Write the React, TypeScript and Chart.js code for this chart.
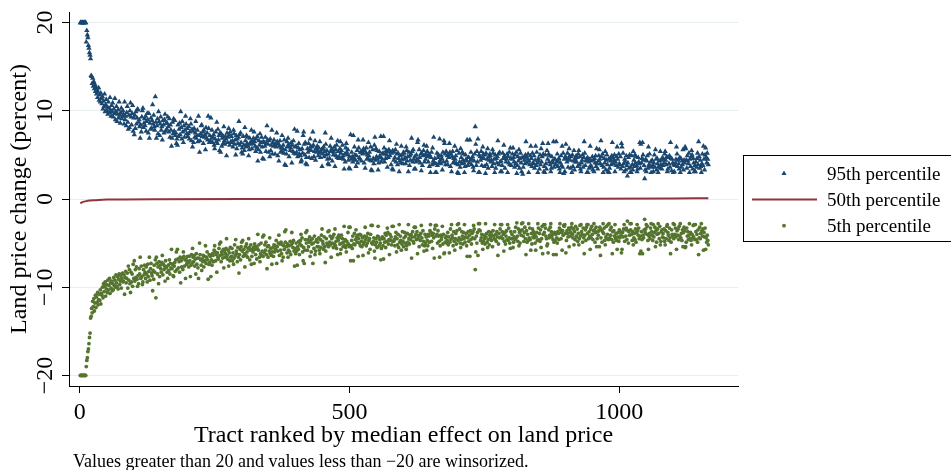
import React, { useEffect, useRef } from 'react';
import { Chart, registerables } from 'chart.js';

Chart.register(...registerables);

// ---- Data ----
const X_TICKS = [0, 500, 1000];
const Y_TICKS = [-20, -10, 0, 10, 20];
const Y_TICK_LABELS = ['\u221220', '\u221210', '0', '10', '20'];
const X_TITLE = 'Tract ranked by median effect on land price';
const Y_TITLE = 'Land price change (percent)';
const NOTE = 'Values greater than 20 and values less than \u221220 are winsorized.';
const SERIES_NAMES = ['95th percentile', '50th percentile', '5th percentile'];

// Tract ranks run 1, 2, 3, ... (one value per tract)
const FIRST_RANK = 1;
const RANK_STEP = 1;

// 95th percentile (percent), one value per tract rank
const P95 = [
  20, 20, 20, 20, 20, 20, 20, 20, 20, 20, 20, 17.8, 19.1, 18.6, 18.3, 17.4, 17.1, 16.6, 16.3, 15.9,
  14.0, 13.9, 13.1, 13.7, 12.8, 13.3, 12.5, 13.0, 12.2, 12.7, 11.9, 12.4, 11.5, 12.1, 12.6, 11.2, 11.8, 11.0, 12.0, 11.4,
  10.8, 11.6, 10.2, 11.1, 10.5, 11.9, 9.9, 10.7, 11.3, 10.0, 10.4, 9.6, 11.0, 10.3, 9.8, 11.5, 10.1, 9.4, 10.6, 9.9,
  10.9, 9.3, 10.2, 9.7, 11.4, 9.0, 9.9, 10.5, 8.8, 9.6, 10.1, 9.2, 11.0, 9.5, 8.6, 9.8, 10.3, 9.1, 9.4, 10.0,
  9.6, 8.5, 11.0, 9.0, 9.4, 8.3, 9.8, 10.5, 8.7, 7.9, 9.5, 8.1, 10.0, 10.9, 9.3, 8.4, 9.7, 10.6, 7.7, 9.2,
  7.3, 9.5, 8.0, 9.9, 8.5, 9.2, 10.2, 10.1, 8.7, 9.0, 8.2, 6.9, 8.4, 7.6, 9.3, 10.0, 10.3, 8.1, 8.6, 9.1,
  8.3, 9.4, 7.7, 8.8, 9.7, 9.0, 7.5, 9.7, 6.9, 8.6, 7.9, 9.2, 8.0, 8.9, 10.7, 8.5, 9.5, 8.2, 7.8, 11.6,
  8.7, 6.9, 8.3, 9.1, 7.4, 9.9, 8.8, 7.2, 8.5, 9.3, 7.8, 8.2, 6.7, 8.9, 8.4, 7.5, 9.0, 9.6, 7.7, 8.6,
  7.9, 8.6, 9.3, 8.2, 7.6, 9.1, 7.0, 8.4, 7.8, 6.0, 6.9, 8.7, 7.4, 9.1, 7.7, 8.9, 7.2, 7.5, 6.3, 6.8,
  6.1, 8.4, 7.1, 7.9, 8.6, 7.3, 9.9, 8.1, 6.8, 8.8, 7.6, 6.4, 8.3, 7.0, 7.8, 9.4, 8.5, 7.4, 8.0, 7.1,
  7.4, 8.2, 6.8, 7.6, 9.1, 8.5, 6.6, 7.9, 5.9, 7.7, 6.4, 8.0, 7.0, 7.5, 8.8, 6.9, 7.2, 7.8, 6.5, 9.4,
  7.2, 5.3, 6.6, 7.4, 8.3, 8.4, 7.1, 7.6, 6.3, 7.8, 7.0, 7.3, 5.6, 8.1, 6.9, 7.5, 6.7, 9.4, 8.0, 6.4,
  7.2, 6.6, 9.2, 6.9, 7.8, 6.4, 7.0, 7.3, 6.1, 5.7, 6.8, 7.6, 6.5, 8.7, 6.3, 7.9, 6.7, 7.2, 5.5, 7.5,
  5.3, 7.4, 6.0, 6.9, 7.2, 6.3, 8.2, 6.6, 6.2, 7.1, 6.8, 4.9, 7.5, 6.4, 7.0, 8.0, 7.3, 6.1, 7.6, 6.5,
  7.1, 6.4, 6.6, 5.9, 7.8, 7.4, 6.2, 6.7, 5.0, 7.2, 5.7, 6.8, 6.3, 7.0, 8.8, 7.3, 6.1, 7.5, 6.4, 5.3,
  5.8, 5.1, 7.1, 6.1, 5.5, 8.1, 6.6, 5.9, 7.2, 6.3, 7.0, 6.0, 4.9, 5.6, 6.9, 6.4, 6.2, 7.8, 5.7, 6.6,
  6.3, 6.9, 7.6, 6.5, 6.0, 5.4, 6.8, 5.8, 7.1, 4.3, 5.6, 6.6, 6.1, 7.4, 5.3, 6.4, 7.0, 5.9, 4.6, 6.5,
  4.5, 6.4, 6.0, 7.0, 5.4, 6.3, 8.3, 6.7, 6.2, 5.3, 6.6, 4.8, 6.8, 5.5, 6.1, 7.8, 5.1, 6.4, 6.0, 6.7,
  6.1, 5.1, 6.2, 5.9, 7.5, 6.5, 4.9, 6.3, 4.3, 6.0, 6.6, 5.3, 5.8, 5.4, 7.2, 5.7, 6.1, 5.2, 6.7, 3.9,
  5.6, 3.8, 5.1, 6.5, 5.9, 6.9, 6.2, 4.8, 6.0, 5.5, 5.8, 6.4, 4.1, 6.1, 5.4, 6.6, 5.2, 7.9, 5.9, 5.1,
  6.0, 5.3, 7.7, 4.8, 5.8, 6.3, 5.1, 5.6, 4.9, 4.2, 4.4, 5.7, 5.2, 7.2, 7.6, 6.2, 5.0, 6.4, 4.0, 4.7,
  3.9, 5.7, 5.3, 6.3, 4.7, 5.6, 6.8, 6.0, 5.5, 4.6, 5.9, 7.6, 6.1, 4.8, 5.4, 6.6, 4.4, 5.7, 5.3, 6.0,
  5.5, 4.9, 5.8, 5.2, 6.5, 4.7, 5.3, 5.6, 3.7, 5.7, 5.1, 5.9, 4.8, 5.4, 7.5, 6.2, 5.0, 5.5, 4.5, 4.0,
  5.1, 3.9, 4.6, 6.0, 5.4, 6.9, 5.7, 4.3, 5.5, 5.0, 5.3, 5.9, 3.7, 5.6, 4.9, 6.1, 4.7, 6.6, 5.4, 4.6,
  4.8, 5.7, 6.5, 5.2, 5.5, 4.6, 6.1, 4.9, 4.5, 3.4, 5.1, 4.2, 5.8, 6.3, 5.3, 5.0, 5.6, 4.4, 3.5, 4.8,
  3.4, 7.3, 4.5, 5.3, 4.8, 4.2, 7.2, 4.6, 5.9, 5.0, 4.4, 3.7, 4.9, 5.5, 4.1, 6.7, 5.8, 4.7, 4.5, 5.3,
  5.3, 4.3, 5.4, 5.1, 6.7, 5.7, 4.1, 5.5, 3.5, 5.2, 5.8, 4.5, 5.0, 4.6, 6.4, 4.9, 5.3, 4.4, 5.9, 3.3,
  4.3, 3.2, 5.6, 4.6, 4.0, 6.1, 7.0, 4.4, 5.7, 4.8, 5.5, 4.5, 3.3, 4.1, 5.4, 4.9, 4.7, 7.1, 4.2, 5.1,
  4.5, 5.2, 7.1, 5.8, 4.2, 5.1, 4.6, 5.5, 5.0, 3.6, 5.4, 4.7, 5.6, 6.6, 4.9, 5.3, 3.9, 5.2, 3.4, 5.5,
  3.3, 4.4, 5.3, 4.7, 5.6, 4.2, 6.2, 5.1, 3.9, 5.2, 4.6, 3.1, 4.3, 4.9, 4.1, 6.0, 4.5, 5.0, 4.0, 5.3,
  5.2, 4.5, 4.7, 4.0, 5.9, 5.5, 4.3, 4.8, 3.1, 5.3, 3.8, 4.9, 4.4, 5.1, 6.9, 5.4, 4.2, 5.6, 4.5, 3.4,
  4.8, 3.4, 4.2, 5.0, 4.5, 6.4, 6.7, 4.3, 5.6, 4.7, 4.1, 5.1, 3.2, 5.2, 3.8, 4.9, 5.5, 6.1, 4.2, 5.0,
  4.5, 5.0, 6.0, 5.4, 4.8, 4.2, 5.1, 3.7, 4.9, 3.0, 4.7, 5.3, 3.9, 5.8, 4.3, 7.0, 4.1, 4.6, 3.0, 4.0,
  3.0, 5.2, 3.8, 4.7, 5.0, 4.1, 6.8, 4.4, 4.0, 4.9, 4.6, 3.3, 5.3, 4.2, 6.6, 6.3, 5.1, 3.9, 5.4, 4.3,
  4.9, 3.9, 5.0, 4.7, 6.3, 5.3, 3.7, 5.1, 3.1, 4.8, 5.4, 4.1, 4.6, 4.2, 6.0, 4.5, 4.9, 4.0, 5.5, 3.0,
  3.9, 2.9, 5.2, 4.2, 3.6, 5.7, 4.7, 4.0, 5.3, 4.4, 5.1, 4.1, 3.0, 3.7, 5.0, 4.5, 4.3, 6.7, 3.8, 4.7,
  4.7, 4.1, 6.7, 4.4, 5.3, 3.9, 4.5, 4.8, 3.6, 3.2, 4.3, 5.1, 8.2, 6.2, 3.8, 5.4, 4.2, 6.8, 3.0, 5.0,
  3.0, 4.8, 4.4, 5.4, 3.8, 4.7, 5.9, 5.1, 4.6, 3.7, 5.0, 2.9, 5.2, 3.9, 4.5, 5.7, 3.5, 4.8, 4.4, 5.1,
  4.9, 4.2, 4.4, 3.7, 5.6, 5.2, 4.0, 4.5, 3.0, 5.0, 3.5, 4.6, 4.1, 4.8, 6.6, 5.1, 3.9, 5.3, 4.2, 3.1,
  4.3, 3.1, 3.8, 5.2, 4.6, 6.1, 4.9, 3.5, 4.7, 4.2, 4.5, 5.1, 3.0, 4.8, 4.1, 5.3, 3.9, 5.8, 4.6, 3.8,
  4.5, 5.1, 5.8, 4.7, 4.2, 3.6, 5.0, 4.0, 5.3, 2.9, 3.8, 4.8, 4.3, 5.6, 3.5, 4.6, 5.2, 4.1, 3.1, 4.7,
  2.8, 3.6, 4.7, 4.4, 4.0, 5.0, 6.5, 4.8, 4.1, 4.5, 5.1, 3.0, 4.3, 3.9, 4.9, 6.0, 4.6, 3.7, 5.2, 4.1,
  4.0, 4.9, 3.5, 4.4, 6.0, 3.8, 5.3, 4.1, 3.0, 4.6, 4.3, 3.4, 5.0, 3.9, 5.7, 4.2, 4.8, 6.3, 5.1, 3.1,
  3.7, 3.0, 5.0, 4.0, 3.4, 5.5, 4.5, 6.3, 5.1, 4.2, 4.9, 3.9, 3.1, 3.5, 4.8, 4.3, 4.1, 6.5, 3.6, 4.5,
  4.5, 3.9, 6.5, 4.2, 5.1, 3.7, 4.3, 4.6, 3.4, 3.0, 4.1, 4.9, 3.8, 6.0, 3.6, 5.2, 2.9, 4.5, 3.1, 4.8,
  6.2, 4.6, 4.2, 5.2, 3.6, 4.5, 5.7, 4.9, 4.4, 3.5, 4.8, 3.0, 5.0, 3.7, 4.3, 5.5, 3.3, 4.6, 4.2, 4.9,
  4.2, 4.7, 3.7, 5.1, 5.5, 3.9, 4.8, 3.4, 3.1, 4.1, 4.4, 5.0, 3.6, 4.7, 6.5, 5.2, 3.8, 4.3, 4.5, 3.0,
  4.7, 3.0, 4.2, 3.5, 4.5, 6.0, 3.8, 4.3, 3.6, 4.8, 3.3, 4.4, 3.1, 4.6, 4.1, 4.9, 3.7, 5.7, 4.0, 3.4,
  4.3, 4.9, 5.6, 4.5, 4.0, 6.6, 4.8, 3.8, 5.1, 3.0, 3.6, 4.6, 4.1, 5.4, 3.3, 4.4, 5.0, 3.9, 3.1, 4.5,
  3.0, 3.5, 4.6, 4.3, 3.9, 4.9, 6.4, 4.7, 4.0, 4.4, 5.0, 3.1, 4.2, 3.8, 4.8, 5.9, 4.5, 3.6, 5.1, 4.0,
  3.9, 4.8, 3.4, 6.3, 5.9, 3.7, 5.2, 4.0, 3.1, 4.5, 4.2, 3.3, 4.9, 3.8, 2.6, 4.1, 4.7, 3.5, 5.0, 3.0,
  3.6, 3.0, 4.9, 3.9, 3.3, 5.4, 4.4, 3.7, 5.0, 4.1, 4.8, 3.8, 3.1, 3.4, 4.7, 4.2, 4.0, 6.4, 3.5, 6.2,
  4.1, 4.6, 6.4, 5.0, 4.4, 3.8, 2.3, 3.3, 4.5, 3.1, 4.3, 4.9, 3.5, 5.9, 3.9, 5.1, 3.7, 4.2, 3.0, 3.6,
  4.4, 3.8, 3.1, 4.1, 5.0, 3.6, 5.6, 4.5, 3.3, 4.6, 4.0, 3.0, 3.7, 4.3, 3.5, 5.4, 3.9, 4.4, 3.4, 4.7,
  3.8, 4.5, 4.1, 5.1, 5.4, 4.4, 3.9, 4.8, 3.1, 3.4, 4.7, 4.0, 4.9, 3.6, 6.4, 4.6, 3.2, 4.5, 4.1, 3.0,
  3.9, 3.1, 3.8, 4.1, 4.5, 5.9, 5.1, 3.7, 4.4, 4.0, 3.4, 4.7, 3.0, 4.6, 3.6, 4.3, 3.9, 5.6, 3.3, 4.4,
  4.1, 5.9, 5.7, 4.4, 3.5, 4.9, 4.3, 4.0, 5.2, 3.0, 4.5, 3.7, 4.8, 5.5, 5.0, 3.4, 4.6, 4.1, 3.1, 3.8,
  3.1, 4.2, 3.6, 4.6, 5.2, 3.9, 6.5, 4.8, 3.5, 4.4, 3.7, 3.0, 4.0, 5.1, 3.8, 6.0, 4.5, 3.3, 5.0, 5.8,
  4.7, 4.1, 5.2, 4.5, 3.9,
];

// 5th percentile (percent), one value per tract rank
const P05 = [
  -20, -20, -20, -20, -20, -20, -20, -20, -20, -20, -20, -19.0, -18.3, -18.0, -17.3, -17.0, -16.4, -15.7, -15.2, -13.5,
  -13.3, -12.4, -12.9, -11.6, -12.2, -11.3, -12.7, -11.8, -10.9, -12.3, -11.1, -11.7, -10.6, -12.0, -11.4, -10.8, -11.5, -10.3, -11.9, -10.7,
  -10.9, -10.0, -11.2, -9.6, -10.5, -9.9, -9.4, -11.0, -10.2, -9.7, -10.6, -9.2, -10.3, -9.8, -9.0, -10.7, -9.5, -10.1, -9.3, -10.4,
  -9.6, -10.3, -8.9, -9.8, -9.2, -10.0, -8.6, -9.5, -9.9, -8.8, -10.2, -9.1, -8.5, -9.7, -9.3, -8.7, -10.1, -9.0, -8.4, -9.4,
  -9.3, -8.6, -10.8, -8.9, -8.2, -9.5, -9.0, -8.4, -10.1, -7.6, -9.2, -8.0, -9.6, -10.6, -8.3, -9.4, -8.5, -9.9, -7.4, -9.0,
  -7.0, -9.3, -8.0, -8.9, -7.7, -9.1, -9.9, -8.7, -9.6, -7.9, -8.5, -6.6, -9.0, -7.6, -8.8, -9.7, -9.4, -8.0, -8.6, -7.5,
  -8.3, -9.0, -7.7, -8.5, -9.4, -7.4, -8.8, -8.2, -6.6, -9.2, -7.9, -7.3, -8.4, -8.7, -10.4, -8.1, -9.1, -7.5, -8.3, -6.9,
  -11.2, -6.6, -7.3, -8.5, -7.7, -9.6, -7.1, -8.8, -7.5, -7.9, -8.3, -7.2, -6.4, -8.6, -7.4, -8.0, -7.6, -9.3, -7.0, -7.8,
  -7.7, -8.3, -9.0, -7.5, -8.1, -6.9, -8.5, -7.3, -7.8, -5.7, -7.9, -7.4, -8.7, -8.8, -7.6, -7.2, -8.2, -6.9, -6.0, -8.0,
  -5.7, -6.8, -7.8, -7.1, -8.3, -6.6, -9.5, -7.0, -7.7, -6.7, -8.0, -6.0, -6.5, -7.6, -6.9, -9.0, -6.8, -7.4, -7.1, -6.5,
  -7.2, -7.7, -6.5, -7.0, -8.8, -7.5, -6.3, -7.3, -5.6, -6.6, -7.1, -6.4, -7.6, -6.8, -8.5, -6.2, -7.4, -6.7, -7.8, -9.0,
  -6.7, -5.0, -6.3, -6.9, -7.5, -8.1, -6.8, -7.1, -6.4, -7.7, -6.5, -7.0, -5.3, -7.3, -6.6, -6.0, -6.9, -9.1, -7.4, -6.3,
  -7.2, -6.5, -8.8, -6.9, -7.5, -6.2, -6.4, -7.1, -5.8, -5.3, -6.0, -7.0, -6.3, -8.3, -6.1, -6.6, -6.8, -5.6, -5.1, -6.4,
  -4.9, -7.1, -6.0, -6.3, -6.7, -5.7, -7.8, -5.9, -6.6, -6.2, -5.6, -4.5, -6.4, -6.8, -5.8, -7.6, -6.1, -7.0, -5.5, -6.6,
  -6.5, -5.6, -7.0, -6.1, -7.4, -6.7, -5.2, -6.4, -4.6, -5.9, -6.2, -7.1, -5.5, -6.6, -8.4, -6.3, -5.7, -6.9, -5.4, -4.9,
  -5.9, -4.7, -6.5, -5.7, -6.2, -7.7, -5.4, -6.4, -5.1, -6.0, -6.6, -5.6, -4.5, -5.5, -6.9, -5.8, -5.2, -7.4, -6.5, -5.7,
  -6.0, -5.5, -7.3, -5.1, -5.7, -6.3, -5.4, -6.8, -5.6, -4.0, -5.8, -5.2, -6.6, -7.1, -6.2, -5.0, -6.4, -5.9, -4.3, -6.5,
  -4.1, -6.1, -5.2, -5.8, -4.9, -6.3, -7.9, -5.4, -6.6, -5.3, -5.9, -4.4, -6.2, -5.6, -6.4, -7.4, -6.0, -5.5, -6.5, -5.2,
  -6.0, -5.3, -5.7, -4.7, -7.3, -5.4, -5.9, -5.0, -4.1, -6.4, -5.1, -5.8, -4.9, -6.2, -7.0, -5.2, -6.6, -5.3, -5.7, -3.7,
  -4.9, -3.5, -5.4, -6.1, -5.1, -6.6, -5.8, -5.3, -6.0, -4.8, -6.3, -5.2, -3.8, -5.0, -5.5, -4.7, -5.9, -7.6, -5.6, -6.2,
  -5.0, -5.9, -7.5, -5.4, -5.7, -4.8, -6.3, -5.1, -4.7, -4.0, -5.3, -4.4, -6.0, -7.0, -5.5, -7.3, -5.8, -4.6, -3.8, -5.0,
  -3.6, -5.8, -4.6, -5.4, -4.9, -4.3, -6.5, -4.7, -6.0, -5.1, -4.5, -7.3, -5.0, -5.6, -4.2, -6.3, -5.9, -4.8, -4.6, -5.4,
  -4.9, -5.4, -4.4, -5.8, -6.2, -4.6, -5.5, -4.1, -3.4, -4.8, -5.1, -5.7, -4.3, -5.4, -7.2, -5.9, -4.5, -5.0, -5.2, -3.7,
  -5.4, -3.6, -4.9, -4.2, -5.2, -6.6, -4.5, -5.0, -4.3, -5.5, -4.0, -5.1, -3.4, -5.3, -4.8, -5.6, -4.4, -6.3, -4.7, -4.1,
  -4.4, -5.1, -6.2, -5.7, -4.1, -5.0, -4.5, -5.4, -4.9, -3.1, -5.3, -4.6, -5.5, -6.0, -4.8, -5.2, -3.8, -5.1, -3.2, -5.4,
  -3.2, -7.0, -5.3, -4.7, -5.6, -4.2, -7.0, -5.1, -3.9, -5.2, -4.6, -3.5, -4.3, -4.9, -4.1, -6.5, -4.5, -5.0, -4.0, -5.3,
  -4.1, -4.8, -5.4, -4.4, -6.4, -5.1, -4.9, -4.2, -3.2, -4.6, -5.3, -4.3, -5.0, -3.9, -6.1, -4.7, -4.5, -5.7, -4.0, -3.0,
  -5.0, -3.0, -5.1, -4.8, -4.4, -5.9, -6.7, -5.2, -4.5, -4.9, -5.5, -4.2, -3.1, -4.3, -5.3, -4.6, -5.0, -6.9, -5.6, -4.5,
  -4.3, -5.3, -6.8, -4.5, -4.9, -3.9, -5.5, -4.1, -4.8, -3.3, -3.8, -5.1, -4.6, -6.3, -4.0, -4.7, -4.3, -5.2, -3.1, -4.8,
  -3.1, -4.8, -4.6, -5.3, -4.3, -3.8, -6.0, -4.5, -5.2, -4.0, -5.5, -2.9, -4.9, -4.2, -4.7, -5.8, -5.1, -3.7, -4.8, -5.4,
  -4.4, -3.8, -5.0, -4.2, -5.7, -5.3, -3.9, -4.9, -2.9, -4.5, -5.1, -4.1, -4.6, -4.0, -6.7, -4.3, -3.7, -4.8, -5.0, -3.2,
  -4.3, -3.2, -4.0, -4.6, -3.7, -6.2, -4.5, -4.2, -5.4, -4.1, -4.7, -3.9, -3.0, -4.4, -5.2, -3.6, -4.8, -5.9, -5.3, -4.0,
  -5.0, -4.3, -5.8, -4.7, -5.3, -4.0, -4.2, -4.9, -3.6, -2.9, -3.8, -4.8, -4.1, -5.6, -3.9, -4.4, -6.7, -3.4, -3.0, -4.2,
  -3.0, -4.0, -5.0, -3.6, -4.2, -4.8, -6.6, -5.3, -4.1, -4.6, -4.3, -3.1, -5.1, -4.0, -6.2, -6.1, -4.9, -4.4, -4.2, -5.0,
  -4.7, -3.8, -5.2, -4.3, -6.1, -4.9, -3.4, -4.6, -2.9, -4.1, -4.4, -5.3, -3.7, -4.8, -5.8, -4.5, -3.9, -5.1, -3.6, -2.9,
  -4.7, -2.8, -4.4, -3.4, -5.0, -5.5, -4.6, -3.7, -4.2, -5.1, -3.8, -4.5, -2.9, -4.9, -4.3, -3.9, -5.3, -6.5, -4.4, -3.7,
  -4.8, -4.1, -6.5, -3.6, -4.6, -5.1, -3.9, -4.4, -3.7, -3.0, -3.4, -4.5, -8.0, -6.0, -4.2, -5.0, -3.8, -6.4, -2.8, -3.5,
  -2.8, -3.6, -4.7, -4.4, -4.0, -5.0, -5.7, -4.8, -4.1, -4.5, -5.1, -2.8, -4.3, -3.9, -4.9, -5.5, -4.6, -3.7, -5.2, -4.1,
  -4.4, -3.8, -4.7, -4.1, -5.4, -3.6, -4.2, -4.5, -2.9, -4.6, -4.0, -4.8, -3.7, -4.3, -6.4, -5.1, -3.9, -4.4, -3.4, -2.9,
  -4.3, -2.9, -3.7, -4.5, -4.0, -5.9, -4.8, -3.8, -5.1, -4.2, -3.6, -4.6, -2.9, -4.7, -3.3, -4.4, -5.0, -5.6, -3.7, -4.5,
  -4.0, -4.5, -5.5, -4.9, -4.3, -3.7, -4.6, -3.2, -4.4, -2.7, -4.2, -4.8, -3.4, -5.3, -3.8, -5.0, -3.6, -4.1, -2.8, -3.5,
  -2.7, -4.2, -4.8, -3.8, -3.2, -4.5, -6.3, -3.6, -4.9, -4.0, -4.7, -2.8, -4.4, -3.3, -4.6, -5.8, -3.9, -5.1, -3.4, -4.3,
  -3.7, -4.4, -4.0, -5.0, -5.8, -4.3, -3.8, -4.7, -2.8, -3.3, -4.6, -3.9, -4.8, -3.5, -5.5, -4.5, -3.1, -6.2, -4.0, -2.9,
  -3.8, -2.9, -3.3, -4.2, -4.5, -5.3, -5.1, -6.1, -3.5, -4.4, -4.1, -3.2, -2.8, -3.7, -4.3, -4.0, -4.6, -6.3, -4.9, -3.8,
  -4.7, -4.0, -6.3, -4.4, -5.0, -3.7, -3.9, -4.6, -3.3, -2.8, -3.5, -4.5, -3.8, -5.8, -3.6, -4.1, -3.0, -3.1, -2.9, -3.9,
  -6.1, -4.7, -3.6, -3.9, -4.3, -3.3, -5.4, -3.5, -4.2, -3.8, -3.2, -2.8, -4.0, -4.4, -3.4, -5.2, -3.7, -4.6, -3.1, -4.2,
  -4.3, -3.4, -4.8, -3.9, -5.2, -4.5, -3.0, -4.2, -2.9, -3.7, -4.0, -4.9, -3.3, -4.4, -6.2, -4.1, -3.5, -4.7, -3.2, -2.9,
  -3.9, -2.9, -4.5, -3.7, -4.2, -5.7, -3.4, -4.4, -3.1, -4.0, -4.6, -3.6, -2.8, -3.5, -4.9, -3.8, -3.2, -5.4, -4.5, -3.7,
  -4.1, -3.6, -5.4, -3.2, -6.4, -4.4, -3.5, -4.9, -3.7, -2.8, -3.9, -3.3, -4.7, -5.2, -4.3, -3.1, -4.5, -4.0, -2.9, -4.6,
  -2.8, -4.4, -3.5, -4.1, -3.2, -4.6, -6.2, -3.7, -4.9, -3.6, -4.2, -2.9, -4.5, -3.9, -4.7, -5.7, -4.3, -3.8, -4.8, -3.5,
  -4.4, -3.7, -4.1, -6.1, -5.7, -3.8, -4.3, -3.4, -2.9, -4.8, -3.5, -4.2, -3.3, -4.6, -2.5, -3.6, -5.0, -3.7, -4.1, -2.8,
  -3.5, -2.8, -4.0, -4.7, -3.7, -5.2, -4.4, -3.9, -4.6, -3.4, -4.9, -3.8, -2.9, -3.6, -4.1, -3.3, -4.5, -6.2, -4.2, -5.9,
  -3.7, -4.6, -6.2, -4.1, -4.4, -3.5, -2.3, -3.8, -3.4, -2.9, -4.0, -3.1, -4.7, -5.7, -4.2, -3.9, -4.5, -3.3, -2.8, -3.7,
  -4.1, -4.7, -2.9, -4.3, -3.8, -3.2, -5.4, -3.6, -4.9, -4.0, -3.4, -2.8, -3.9, -4.5, -3.1, -5.2, -4.8, -3.7, -3.5, -4.3,
  -3.9, -4.4, -3.4, -4.8, -5.2, -3.6, -4.5, -3.1, -2.9, -3.8, -4.1, -4.7, -3.3, -4.4, -6.2, -4.9, -3.5, -4.0, -4.2, -2.8,
  -4.5, -2.9, -4.0, -3.3, -4.3, -5.7, -3.6, -4.1, -3.4, -4.6, -3.1, -4.2, -2.8, -4.4, -3.9, -4.7, -3.5, -5.4, -3.8, -3.2,
  -3.6, -5.5, -5.4, -4.9, -3.3, -4.2, -3.7, -4.6, -4.1, -2.8, -4.5, -3.8, -4.7, -5.2, -4.0, -4.4, -3.0, -4.3, -2.9, -4.6,
  -2.9, -3.7, -4.6, -4.0, -4.9, -3.5, -6.3, -4.4, -3.2, -4.5, -3.9, -2.8, -3.6, -4.2, -3.4, -5.8, -3.8, -4.3, -3.3, -5.7,
  -4.4, -4.9, -4.1, -4.7, -5.2,
];

// 50th percentile (median) line
const P50_RANKS = [1, 3, 5, 8, 12, 18, 25, 35, 50, 80, 150, 300, 500, 700, 900, 1100, 1165];
const P50_VALUES = [-0.5, -0.42, -0.36, -0.3, -0.24, -0.18, -0.14, -0.1, -0.07, -0.05, -0.03, -0.01, 0.0, 0.02, 0.04, 0.06, 0.08];

// ---- Styling ----
const FONT = '"Liberation Serif", "Times New Roman", Times, serif';
const BLUE = '#1a476f';
const RED = '#90353b';
const GREEN = '#55752f';
const GRID = '#e6eef1';

export default function App() {
  const ref = useRef<HTMLCanvasElement>(null);

  useEffect(() => {
    const canvas = ref.current;
    if (!canvas) return;

    const toPoints = (vals: number[]) =>
      vals.map((v, i) => ({ x: FIRST_RANK + i * RANK_STEP, y: v }));

    const textPlugin = {
      id: 'stataText',
      afterDraw(chart: any) {
        const { ctx, chartArea } = chart;
        const xs = chart.scales.x;
        const ys = chart.scales.y;
        ctx.save();
        ctx.fillStyle = '#000';
        ctx.textBaseline = 'alphabetic';
        ctx.textAlign = 'center';
        ctx.font = `24px ${FONT}`;
        X_TICKS.forEach((v) => ctx.fillText(String(v), xs.getPixelForValue(v), 419));
        Y_TICKS.forEach((v, i) => {
          ctx.save();
          ctx.translate(52, ys.getPixelForValue(v));
          ctx.rotate(-Math.PI / 2);
          ctx.fillText(Y_TICK_LABELS[i], 0, 0);
          ctx.restore();
        });
        ctx.fillText(X_TITLE, (chartArea.left + chartArea.right) / 2, 442);
        ctx.save();
        ctx.translate(26, (chartArea.top + chartArea.bottom) / 2);
        ctx.rotate(-Math.PI / 2);
        ctx.fillText(Y_TITLE, 0, 0);
        ctx.restore();
        ctx.font = `18px ${FONT}`;
        ctx.textAlign = 'left';
        ctx.fillText(NOTE, 73, 467);
        // legend
        ctx.strokeStyle = '#000';
        ctx.lineWidth = 1;
        ctx.strokeRect(743.5, 155.5, 220, 86);
        const r = 3;
        ctx.fillStyle = BLUE;
        ctx.beginPath();
        ctx.moveTo(784, 173.5 - r);
        ctx.lineTo(784 + r * 0.866, 173.5 + r * 0.5);
        ctx.lineTo(784 - r * 0.866, 173.5 + r * 0.5);
        ctx.closePath();
        ctx.fill();
        ctx.strokeStyle = RED;
        ctx.lineWidth = 2;
        ctx.beginPath();
        ctx.moveTo(752, 199.5);
        ctx.lineTo(817, 199.5);
        ctx.stroke();
        ctx.fillStyle = GREEN;
        ctx.beginPath();
        ctx.arc(784, 225.7, 1.9, 0, Math.PI * 2);
        ctx.fill();
        ctx.fillStyle = '#000';
        ctx.font = `19px ${FONT}`;
        ctx.fillText(SERIES_NAMES[0], 827, 180);
        ctx.fillText(SERIES_NAMES[1], 827, 206);
        ctx.fillText(SERIES_NAMES[2], 827, 232);
        ctx.restore();
      },
    };

    const chart = new Chart(canvas, {
      type: 'scatter',
      data: {
        datasets: [
          {
            label: SERIES_NAMES[1],
            data: P50_RANKS.map((x, i) => ({ x, y: P50_VALUES[i] })),
            showLine: true,
            borderColor: RED,
            borderWidth: 2,
            pointRadius: 0,
            cubicInterpolationMode: 'monotone',
          } as any,
          {
            label: SERIES_NAMES[0],
            data: toPoints(P95),
            pointStyle: 'triangle',
            pointRadius: 3.1,
            backgroundColor: BLUE,
            borderColor: BLUE,
            borderWidth: 0,
          },
          {
            label: SERIES_NAMES[2],
            data: toPoints(P05),
            pointStyle: 'circle',
            pointRadius: 1.9,
            backgroundColor: GREEN,
            borderColor: GREEN,
            borderWidth: 0,
          },
        ],
      },
      options: {
        responsive: false,
        animation: false,
        devicePixelRatio: 1,
        events: [],
        layout: { padding: { left: 0, top: 12, right: 213, bottom: 0 }, autoPadding: false },
        plugins: { legend: { display: false }, tooltip: { enabled: false } },
        scales: {
          x: {
            type: 'linear',
            min: -20,
            max: 1220,
            afterBuildTicks: (s: any) => {
              s.ticks = X_TICKS.map((value) => ({ value }));
            },
            afterFit: (s: any) => {
              s.height = 84;
            },
            ticks: { display: false },
            grid: { drawOnChartArea: false, drawTicks: true, tickLength: 7, tickColor: '#000', tickWidth: 1 },
            border: { display: true, color: '#000', width: 1 },
          },
          y: {
            type: 'linear',
            min: -21.2,
            max: 21.2,
            afterBuildTicks: (s: any) => {
              s.ticks = Y_TICKS.map((value) => ({ value }));
            },
            afterFit: (s: any) => {
              s.width = 69;
            },
            ticks: { display: false },
            grid: { color: GRID, lineWidth: 1, drawTicks: true, tickLength: 7, tickColor: '#000', tickWidth: 1 },
            border: { display: true, color: '#000', width: 1 },
          },
        },
      } as any,
      plugins: [textPlugin],
    });

    return () => chart.destroy();
  }, []);

  return (
    <div style={{ position: 'fixed', left: 0, top: 0, width: 951, height: 470, background: '#fff' }}>
      <canvas ref={ref} width={951} height={470} style={{ display: 'block', width: 951, height: 470 }} />
    </div>
  );
}
